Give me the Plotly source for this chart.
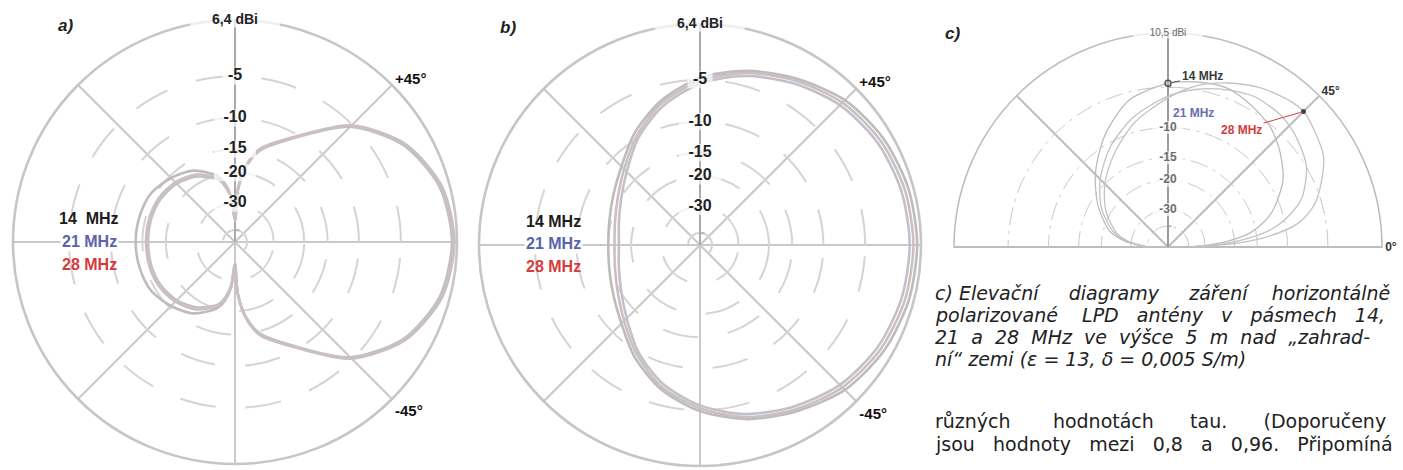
import math
import plotly.graph_objects as go

W, H = 1403, 470
FONT = "Arial, 'Liberation Sans', sans-serif"
TEXT_FONT = "'DejaVu Sans', Verdana, sans-serif"

# ---------------------------------------------------------------- data
BANDS = ["14 MHz", "21 MHz", "28 MHz"]
BAND_LABELS_A = ["14  MHz", "21 MHz", "28 MHz"]
BAND_TEXT_COLORS = ["#1c1c1c", "#5b63a9", "#d43c3c"]
CURVE_COLORS = ["#bcbcbc", "#c1c1cd", "#cdbfbf"]

# dB below the maximum at which the rings are drawn
RING_DB = [5, 10, 15, 20, 30]
RING_LABELS = ["-5", "-10", "-15", "-20", "-30"]
CENTER_RING_DB = [50]

# a) azimuth patterns, attenuation below maximum (dB)
AZ_A = [0, 15, 30, 45, 60, 75, 82, 87, 90, 95, 100, 105, 120, 135, 150, 165, 180,
        195, 210, 225, 240, 255, 260, 265, 270, 273, 278, 285, 300, 315, 330, 345, 360]
A_14 = [0.3, 0.7, 2.2, 5.2, 10.4, 14.5, 18.5, 25, 40, 27, 22.5, 20.2, 17.0, 15.4, 14.2, 13.9, 13.8,
        13.9, 14.2, 15.4, 17.0, 20.2, 22.5, 27, 40, 25, 18.5, 14.5, 10.4, 5.2, 2.2, 0.7, 0.3]
A_21 = [0.4, 0.8, 2.3, 5.3, 10.5, 14.7, 18.8, 25.5, 40, 28, 23.5, 21.2, 18.5, 17.0, 16.3, 16.1, 16.1,
        16.1, 16.3, 17.0, 18.5, 21.2, 23.5, 28, 40, 25.5, 18.8, 14.7, 10.5, 5.3, 2.3, 0.8, 0.4]
A_28 = [0.2, 0.6, 2.1, 5.1, 10.3, 14.3, 18.3, 24.8, 40, 27.5, 23.0, 20.8, 18.0, 16.6, 15.9, 15.7, 15.7,
        15.7, 15.9, 16.6, 18.0, 20.8, 23.0, 27.5, 40, 24.8, 18.3, 14.3, 10.3, 5.1, 2.1, 0.6, 0.2]

# b) azimuth patterns, attenuation below maximum (dB)
AZ_B = [0, 15, 30, 45, 60, 75, 90, 105, 120, 135, 150, 165, 180,
        195, 210, 225, 240, 255, 270, 285, 300, 315, 330, 345, 360]
B_14 = [0.3, 0.4, 0.7, 1.3, 2.4, 3.5, 4.8, 6.7, 9.1, 11.8, 13.6, 14.7, 15.1,
        14.7, 13.6, 11.8, 9.1, 6.7, 4.9, 3.5, 2.4, 1.3, 0.7, 0.4, 0.3]
B_21 = [0.9, 1.0, 1.3, 1.9, 2.9, 4.0, 5.4, 7.4, 10.0, 13.0, 15.2, 16.6, 17.2,
        16.6, 15.2, 13.0, 10.0, 7.4, 5.5, 4.0, 2.9, 1.9, 1.3, 1.0, 0.9]
B_28 = [0.6, 0.7, 1.0, 1.6, 2.6, 3.7, 5.1, 7.0, 9.6, 12.4, 14.5, 15.8, 16.3,
        15.8, 14.5, 12.4, 9.6, 7.0, 5.2, 3.7, 2.6, 1.6, 1.0, 0.7, 0.6]

# c) elevation patterns, attenuation below maximum (dB)
EL_C = [0, 3, 6, 10, 15, 20, 30, 40, 45, 50, 60, 70, 80, 90, 105, 120, 135, 150, 165, 172, 180]
C_14 = [40, 28, 21, 16, 13, 11, 8.2, 6.5, 5.8, 5.2, 4.5, 4.0, 4.2, 4.6, 5.9, 8.9, 12.6, 16.8, 21.8, 27, 40]
C_21 = [40, 24, 17, 12, 9, 7, 5.0, 4.1, 3.8, 3.6, 3.6, 4.2, 5.0, 6.0, 8.0, 10.6, 13.8, 17.6, 23, 28, 40]
C_28 = [40, 20, 13, 8.5, 6.2, 4.9, 3.0, 2.2, 1.9, 2.0, 2.6, 3.5, 4.6, 6.2, 8.7, 11.8, 15.0, 18.8, 24, 29, 40]
C_RING_LABELS = ["-10", "-15", "-20", "-30"]

MAX_LABEL_AB = "6,4 dBi"
MAX_LABEL_C = "10,5 dBi"

# justified magazine text (extra spaces stretch lines to the column width)
CAPTION = [
    "c) Elevační     diagramy     záření    horizontálně",
    "polarizované    LPD   antény   v   pásmech   14,",
    "21  a  28  MHz  ve  výšce  5  m  nad  „zahrad-",
    "ní“ zemi (ε = 13, δ = 0,005 S/m)",
]
BODY = [
    "různých       hodnotách      tau.      (Doporučeny",
    "jsou   hodnoty   mezi   0,8   a   0,96.   Připomíná",
]


def arrl(db_list):
    """ARRL log radial scale: the radius shrinks by 0.89 for every 2 dB."""
    return [0.89 ** (d / 2.0) for d in db_list]


# ---------------------------------------------------------------- layout geometry (pixels)
PANELS = {
    "polar": dict(x0=13, x1=457, top=20, bottom=464),
    "polar2": dict(x0=479, x1=921, top=24, bottom=466),
    "polar3": dict(x0=954, x1=1382, top=33, bottom=247),
}


def domain(p):
    return dict(x=[p["x0"] / W, p["x1"] / W], y=[1 - p["bottom"] / H, 1 - p["top"] / H])


fig = go.Figure()


def add_curves(subplot, theta, series, width):
    for name, vals, col in zip(BANDS, series, CURVE_COLORS):
        fig.add_trace(go.Scatterpolar(
            theta=theta, r=arrl(vals), mode="lines", name=name,
            line=dict(color=col, width=width, shape="spline", smoothing=0.8),
            subplot=subplot, showlegend=False, hoverinfo="skip"))


def add_labels(subplot, r, texts, size, color, pad, bold=True):
    fig.add_trace(go.Scatterpolar(
        theta=[90] * len(r), r=r, mode="markers+text",
        text=[f"<b>{t}</b>" if bold else t for t in texts],
        textposition="middle center",
        textfont=dict(family=FONT, size=size, color=color),
        marker=dict(symbol="line-ew", size=pad, line=dict(color="white", width=size + 1)),
        subplot=subplot, showlegend=False, hoverinfo="skip", cliponaxis=False))


add_curves("polar", AZ_A, [A_14, A_21, A_28], 2.6)
add_curves("polar2", AZ_B, [B_14, B_21, B_28], 2.6)
add_curves("polar3", EL_C, [C_14, C_21, C_28], 1.3)

# reference points on the elevation curves
i90 = EL_C.index(90)
i45 = EL_C.index(45)
fig.add_trace(go.Scatterpolar(
    theta=[90], r=arrl([C_14[i90]]), mode="markers",
    marker=dict(symbol="circle-open", size=6, color="#555", line=dict(width=1.5)),
    subplot="polar3", showlegend=False, hoverinfo="skip"))
fig.add_trace(go.Scatterpolar(
    theta=[45], r=arrl([C_28[i45]]), mode="markers",
    marker=dict(symbol="circle", size=5, color="#444"),
    subplot="polar3", showlegend=False, hoverinfo="skip"))

# ring labels along the vertical axis
for sp in ("polar", "polar2"):
    add_labels(sp, arrl(RING_DB), RING_LABELS, 16, "#222", [18, 30, 30, 30, 30])
    add_labels(sp, [1.0], [MAX_LABEL_AB], 14, "#222", [64])
add_labels("polar3", arrl(RING_DB[1:]), C_RING_LABELS, 12, "#6d6d6d", [22, 22, 22, 22])
add_labels("polar3", [1.0], [MAX_LABEL_C], 10, "#666", [50], bold=False)


# ---------------------------------------------------------------- axes
def full_polar(p):
    return dict(
        domain=domain(p), bgcolor="white",
        angularaxis=dict(
            rotation=0, direction="counterclockwise",
            tickvals=[0, 45, 90, 135, 180, 225, 270, 315],
            ticktext=["", "<b>+45°</b>", "", "", "", "", "", "<b>-45°</b>"],
            tickfont=dict(family=FONT, size=15, color="#111"),
            showgrid=True, gridcolor="#c9c9c9", gridwidth=2.4,
            showline=True, linecolor="#c6c6c6", linewidth=2.6,
            ticks="", layer="below traces"),
        radialaxis=dict(
            range=[0, 1], angle=90, tickvals=arrl(RING_DB + CENTER_RING_DB),
            showticklabels=False, ticks="outside", ticklen=4, tickcolor="#9a9a9a",
            showgrid=True, gridcolor="#d4d4d4", gridwidth=2, griddash="36px,30px",
            showline=True, linecolor="#9a9a9a", linewidth=1.3, layer="below traces"),
    )


fig.update_layout(
    width=W, height=H, margin=dict(l=0, r=0, t=0, b=0),
    paper_bgcolor="white", plot_bgcolor="white", showlegend=False,
    polar=full_polar(PANELS["polar"]),
    polar2=full_polar(PANELS["polar2"]),
    polar3=dict(
        domain=domain(PANELS["polar3"]), bgcolor="white", sector=[0, 180],
        angularaxis=dict(
            rotation=0, direction="counterclockwise",
            tickvals=[0, 45, 90, 135, 180], ticktext=["<b>0°</b>", "<b>45°</b>", "", "", ""],
            tickfont=dict(family=FONT, size=12, color="#333"),
            showgrid=True, gridcolor="#bdbdbd", gridwidth=1.6,
            showline=True, linecolor="#bdbdbd", linewidth=1.6,
            ticks="", layer="below traces"),
        radialaxis=dict(
            range=[0, 1], angle=90, tickvals=arrl(RING_DB + [40]),
            showticklabels=False, ticks="outside", ticklen=3, tickcolor="#888",
            showgrid=True, gridcolor="#c9c9c9", gridwidth=1.2, griddash="18px,6px,3px,6px",
            showline=True, linecolor="#888", linewidth=1.3, layer="below traces"),
    ),
)

# ---------------------------------------------------------------- text
ann = []
for txt, (x, y) in zip(["a)", "b)", "c)"], [(56, 25), (498, 27), (943, 33)]):
    ann.append(dict(text=f"<b><i>{txt}</i></b>", x=x / W, y=1 - y / H, xref="paper", yref="paper",
                    xanchor="left", yanchor="middle", showarrow=False,
                    font=dict(family=FONT, size=17, color="#222")))

for cx, labels in ((89, BAND_LABELS_A), (553, BANDS)):
    for k, (name, col) in enumerate(zip(labels, BAND_TEXT_COLORS)):
        y = [219, 241, 264][k] + (2 if cx > 300 else 0)
        ann.append(dict(text=f"<b>{name}</b>", x=cx / W, y=1 - y / H, xref="paper", yref="paper",
                        xanchor="center", yanchor="middle", showarrow=False,
                        bgcolor="white" if k == 1 else None, borderpad=1,
                        font=dict(family=FONT, size=16, color=col)))

# elevation panel band labels with leader lines to the curves
pc = PANELS["polar3"]
R_C = (pc["x1"] - pc["x0"]) / 2
CX_C = pc["x0"] + R_C
CY_C = pc["bottom"]


def to_paper(theta_deg, r):
    t = math.radians(theta_deg)
    return (CX_C + R_C * r * math.cos(t)) / W, 1 - (CY_C - R_C * r * math.sin(t)) / H


x14, y14 = to_paper(90, arrl([C_14[i90]])[0])
x28, y28 = to_paper(45, arrl([C_28[i45]])[0])
ann.append(dict(text=f"<b>{BANDS[0]}</b>", x=x14, y=y14, xref="paper", yref="paper", ax=34, ay=-7,
                showarrow=True, arrowhead=0, arrowwidth=1, arrowcolor="#555", standoff=4,
                font=dict(family=FONT, size=12, color="#3a3a3a")))
ann.append(dict(text=f"<b>{BANDS[1]}</b>", x=1216 / W, y=1 - 104 / H, xref="paper", yref="paper",
                showarrow=False, font=dict(family=FONT, size=12, color="#6a6fb3")))
ann.append(dict(text=f"<b>{BANDS[2]}</b>", x=x28, y=y28, xref="paper", yref="paper", ax=-62, ay=18,
                showarrow=True, arrowhead=0, arrowwidth=1, arrowcolor="#d43c3c", standoff=3,
                font=dict(family=FONT, size=12, color="#d43c3c")))

for k, line in enumerate(CAPTION):
    ann.append(dict(text=f"<i>{line}</i>", x=933 / W, y=1 - (293 + 22 * k) / H,
                    xref="paper", yref="paper", xanchor="left", yanchor="middle", showarrow=False,
                    font=dict(family=TEXT_FONT, size=19, color="#222")))
for k, line in enumerate(BODY):
    ann.append(dict(text=line, x=933 / W, y=1 - (421 + 23 * k) / H, xref="paper", yref="paper",
                    xanchor="left", yanchor="middle", showarrow=False,
                    font=dict(family=TEXT_FONT, size=19, color="#222")))

fig.update_layout(annotations=ann)
fig.write_html("out.html")
